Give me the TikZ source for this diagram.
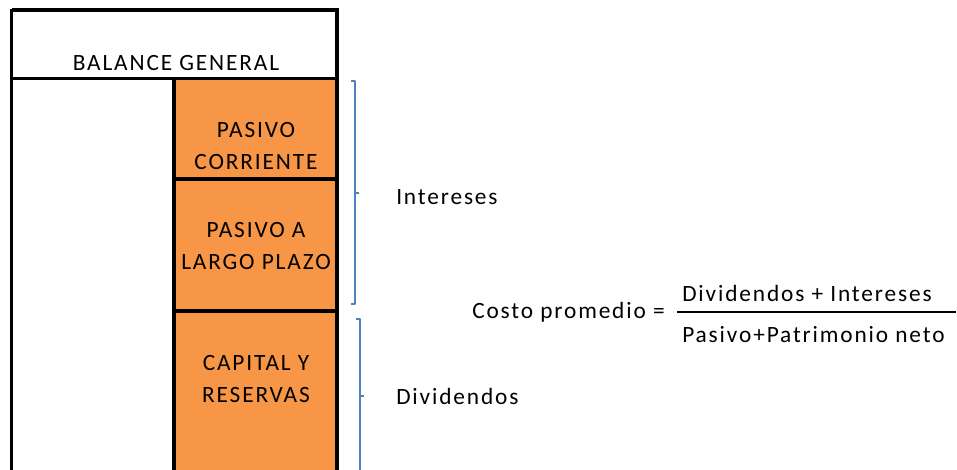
\documentclass[tikz,border=0pt]{standalone}
\usepackage{fontspec}
\setmainfont[LetterSpace=8]{Carlito}
\usepackage{xcolor}
\usepackage{tikz}

\definecolor{pasivoorange}{RGB}{247,150,70}
\definecolor{braceblue}{RGB}{79,129,189}

\begin{document}
\begin{tikzpicture}[x=0.75pt,y=0.75pt,yscale=-1,xscale=1,
    lbl/.style={inner sep=0pt,font=\fontsize{17.5}{24.5}\selectfont},
    cuenta/.style={lbl,align=center},
    llave/.style={draw=braceblue,line width=1.8pt,line join=round}]
        \useasboundingbox (0,0) rectangle (957,470);

        %Shape: Rectangle (columna de pasivo y patrimonio)
        \fill[pasivoorange] (174,78) rectangle (337,475);
        %Straight Lines (borde izquierdo)
        \draw[line width=2pt] (11.5,9) -- (11.5,475);
        %Shape: Rectangle (encabezado)
        \draw[line width=2.8pt] (11.5,10) -- (337,10) -- (337,475);
        \draw[line width=2.8pt] (11.5,78.5) -- (337,78.5);
        %Straight Lines (divisiones)
        \draw[line width=2.8pt] (174,78.5) -- (174,475);
        \draw[line width=2.8pt] (174,179) -- (337,179);
        \draw[line width=2.8pt] (174,311) -- (337,311);

        %Text
        \node[lbl,anchor=base] (balance) at (176,71) {BALANCE GENERAL};
        \node[cuenta] (corriente) at (256,146) {PASIVO\\CORRIENTE};
        \node[cuenta] (largo) at (256,246) {PASIVO A\\LARGO PLAZO};
        \node[cuenta] (capital) at (256,379) {CAPITAL Y\\RESERVAS};

        %Shape: Brace (intereses)
        \draw[llave] (351,81) -- (355,81) -- (355,304) -- (351,304);
        \draw[llave] (355,193) -- (359,193);
        %Shape: Brace (dividendos)
        \draw[llave] (356,319) -- (360,319) -- (360,475);
        \draw[llave] (360,396) -- (364,396);

        \node[lbl,anchor=base west] (intereses) at (396,205) {Intereses};
        \node[lbl,anchor=base west] (dividendos) at (396,404) {Dividendos};

        %Formula
        \node[lbl,anchor=base west] (costo) at (472,319) {Costo promedio =};
        \node[lbl,anchor=base west] (numerador) at (682,302) {Dividendos + Intereses};
        \node[lbl,anchor=base west] (denominador) at (682,343) {Pasivo+Patrimonio neto};
        %Straight Lines (raya de fraccion)
        \draw[line width=1.5pt] (677,312) -- (956,312);
\end{tikzpicture}
\end{document}
